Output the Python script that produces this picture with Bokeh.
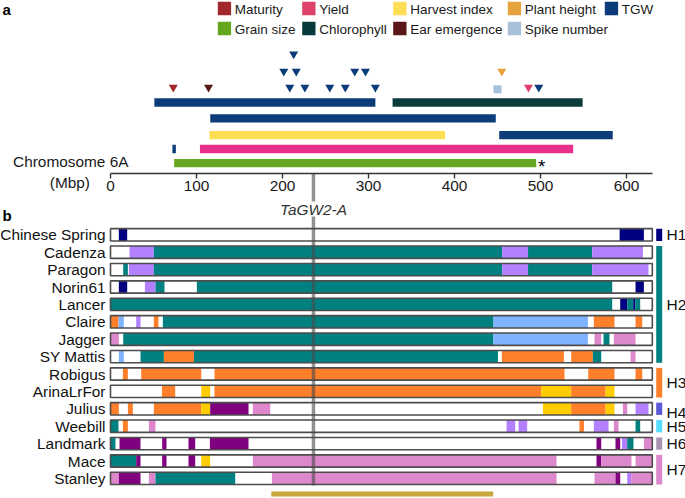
from bokeh.plotting import figure
from bokeh.models import Range1d, LinearAxis, FixedTicker
from bokeh.core.properties import value
from bokeh.embed import file_html
from bokeh.resources import INLINE

# ====================== DATA ======================
# ---- panel a : QTL map of chromosome 6A (positions in Mbp) ----
LEGEND_TRAITS = ["Maturity", "Yield", "Harvest index", "Plant height", "TGW",
                 "Grain size", "Chlorophyll", "Ear emergence", "Spike number"]

QTL_TRAIT = ["TGW", "Chlorophyll", "TGW", "Harvest index", "TGW", "TGW", "Yield", "Grain size"]
QTL_START = [51, 328, 116, 115, 452, 72, 104, 74]
QTL_END = [308, 549, 448, 389, 584, 76, 538, 495]
QTL_TRACK = [0, 0, 1, 2, 2, 3, 3, 4]          # 0 = top track

MARK_TRAIT = ["Maturity", "Ear emergence", "TGW", "TGW", "TGW", "TGW", "TGW",
              "Spike number", "Yield", "TGW",
              "TGW", "TGW", "TGW", "TGW", "Plant height",
              "TGW"]
MARK_POS = [73, 114, 208.5, 226, 255, 273, 308,
            450, 486, 498,
            201.5, 216, 284, 296.5, 455,
            213]
MARK_LEVEL = [0, 0, 0, 0, 0, 0, 0,
              0, 0, 0,
              1, 1, 1, 1, 1,
              2]

SIGNIF_TRAIT = "Grain size"                    # QTL marked with "*"
AXIS_TICKS = [0, 100, 200, 300, 400, 500, 600]
CHROM_END = 630
TAGW2_POS = 236
GENE_NAME = "TaGW2-A"

# ---- panel b : haplotypes of 15 varieties ----
VARIETIES = ["Chinese Spring", "Cadenza", "Paragon", "Norin61", "Lancer", "Claire",
             "Jagger", "SY Mattis", "Robigus", "ArinaLrFor", "Julius", "Weebill",
             "Landmark", "Mace", "Stanley"]
HAPLO_NAMES = ["H1", "H2", "H3", "H4", "H5", "H6", "H7"]
HAPLO_SIZES = [1, 7, 2, 1, 1, 1, 2]

SEG_CHINESE_SPRING = [(9.7, 19.4, "navy"), (592, 620.2, "navy")]
SEG_CADENZA = [(22.1, 50.4, "lavender"), (50.4, 455.5, "teal"), (455.5, 485.5, "lavender"),
               (485.5, 560.1, "teal"), (560.1, 619.1, "lavender")]
SEG_PARAGON = [(14.8, 20.2, "teal"), (21.4, 50.4, "lavender"), (50.4, 455.5, "teal"),
               (455.5, 485.5, "lavender"), (485.5, 560.1, "teal"), (560.1, 625.6, "lavender")]
SEG_NORIN61 = [(9.7, 19.4, "navy"), (40, 52.3, "lavender"), (52.3, 62.8, "teal"),
               (100.4, 583.4, "teal"), (610.5, 620.2, "navy")]
SEG_LANCER = [(0, 583.4, "teal"), (592.7, 600.8, "navy"), (600.8, 607.8, "teal"),
              (607.8, 610.1, "navy"), (610.1, 615.9, "teal")]
SEG_CLAIRE = [(0, 9.3, "orange"), (9.3, 15.5, "lightblue"), (29.9, 34.9, "lavender"),
              (50.4, 55.8, "orange"), (60.9, 445.3, "teal"), (445.3, 555.1, "lightblue"),
              (562, 586, "orange"), (610.5, 618.3, "orange")]
SEG_JAGGER = [(0, 9.7, "pink"), (14.8, 445.3, "teal"), (445.3, 555.1, "lightblue"),
              (562.8, 570.6, "pink"), (573.3, 580.2, "teal"), (585.3, 610.5, "pink")]
SEG_SY_MATTIS = [(9.7, 15.5, "lightblue"), (34.9, 62.1, "teal"), (62.1, 97, "orange"),
                 (97, 450.5, "teal"), (455.1, 527.2, "orange"), (535.7, 560.9, "orange"),
                 (560.9, 570.6, "teal"), (604.7, 610.5, "pink")]
SEG_ROBIGUS = [(14.4, 20.2, "orange"), (35.7, 105.5, "orange"), (120.9, 527.9, "orange"),
               (555.5, 586, "orange"), (610.5, 618.3, "orange")]
SEG_ARINALRFOR = [(59.8, 75.2, "orange"), (105.5, 115.9, "gold"), (120.9, 500.8, "orange"),
                  (500.8, 535.7, "gold"), (535.7, 575.6, "orange"), (575.6, 586, "gold")]
SEG_JULIUS = [(0, 9.7, "orange"), (20.2, 26, "orange"), (50.4, 105.5, "orange"),
              (105.5, 115.9, "gold"), (115.9, 160.5, "purple"), (165.5, 185.7, "pink"),
              (502.8, 535.7, "gold"), (535.7, 575.6, "orange"), (575.6, 586, "gold"),
              (595.8, 600.8, "pink"), (610.5, 625.6, "lavender")]
SEG_WEEBILL = [(0, 9.3, "teal"), (14.4, 20.2, "orange"), (44.6, 52.3, "pink"),
               (460.5, 470.6, "lavender"), (474.5, 484.5, "lavender"), (545.3, 550.5, "orange"),
               (562, 579.1, "lavender"), (585.3, 590.7, "pink"), (610.5, 615.9, "teal")]
SEG_LANDMARK = [(0, 5.8, "teal"), (10.5, 34.9, "purple"), (60.1, 65.1, "purple"),
                (90.7, 98.5, "purple"), (115.6, 160.5, "purple"), (565.1, 570.6, "purple"),
                (587.2, 592.7, "purple"), (594.7, 600.8, "lavender"), (600.8, 608.1, "teal"),
                (620.2, 630, "pink")]
SEG_MACE = [(0, 29.9, "teal"), (29.9, 34.9, "purple"), (60.1, 65.1, "purple"),
            (90.7, 98.5, "purple"), (105.5, 115.9, "gold"), (165.5, 518.6, "pink"),
            (565.1, 570.6, "purple"), (570.6, 605.8, "pink"), (610.5, 630, "pink")]
SEG_STANLEY = [(0, 9.7, "pink"), (9.7, 34.9, "purple"), (44.6, 52.3, "pink"),
               (52.3, 145, "teal"), (187.7, 518.6, "pink"), (562.8, 587.2, "pink"),
               (587.2, 592.7, "purple"), (600.8, 605.4, "lavender"), (605.4, 630, "pink")]
VARIETY_SEGMENTS = [SEG_CHINESE_SPRING, SEG_CADENZA, SEG_PARAGON, SEG_NORIN61, SEG_LANCER,
                    SEG_CLAIRE, SEG_JAGGER, SEG_SY_MATTIS, SEG_ROBIGUS, SEG_ARINALRFOR,
                    SEG_JULIUS, SEG_WEEBILL, SEG_LANDMARK, SEG_MACE, SEG_STANLEY]

REGION_START, REGION_END = 187, 445            # highlighted interval under panel b

# ====================== STYLE ======================
FONT = "Liberation Sans"
TRAIT_COLOR = {"Maturity": "#a0282d", "Yield": "#e0416b", "Harvest index": "#ffdd55",
               "Plant height": "#e6a23c", "TGW": "#0b3b78", "Grain size": "#66a61e",
               "Chlorophyll": "#083a3a", "Ear emergence": "#5b1619", "Spike number": "#a8c0da"}
BAR_COLOR = dict(TRAIT_COLOR, **{"Yield": "#e8308a", "TGW": "#0c3d79",
                                 "Grain size": "#68a820", "Chlorophyll": "#0b3c3c"})
SEG_COLOR = {"teal": "#008080", "lavender": "#b380ff", "navy": "#000080", "orange": "#ff7f2a",
             "lightblue": "#80b3ff", "pink": "#dd88cc", "purple": "#800080", "gold": "#ffcc00"}
HAPLO_COLOR = ["#000080", "#008080", "#ff7f2a", "#5a5ad6", "#55ddff", "#a894b0", "#dd88cc"]
HAPLO_LABEL_DY = [0, 0, 0, 3.5, 0, 0, 0]

# layout (reference-page pixel geometry; the figure is 1:1 with it)
PX0, PX_PER_MBP = 110.0, 0.86
W, H = 685, 498


def mx(px):
    return (px - PX0) / PX_PER_MBP


TRACK_Y = [102, 117.8, 134.7, 148.5, 162.7]
LEVEL_Y = [86.8, 70.8, 53.5]
AXIS_Y = 173
ROW0_Y, ROW_STEP, ROW_H = 234.3, 17.4, 12.3
LEG_COL_PX = [217.3, 301.7, 392.7, 507.3, 604.3]
LEG_ROW_Y = [8.0, 28.0]
BIG = "15.4px"

p = figure(width=W, height=H, x_range=Range1d(mx(0), mx(W)), y_range=Range1d(H, 0),
           toolbar_location=None, output_backend="svg",
           x_axis_location=None, y_axis_location=None, min_border=0,
           outline_line_color=None, background_fill_color="white", border_fill_color="white")
p.grid.visible = False


def txt(x, y, s, size=BIG, align="left", style="normal", color="#1a1a1a"):
    p.text(x=x, y=y, text=s, text_font=value(FONT), text_font_size=size,
           text_align=align, text_baseline="middle", text_font_style=style, text_color=color)


# ---------- panel a ----------
txt([mx(2)], [9], ["a"], size="15px", style="bold", color="black")

leg_x, leg_y, leg_c, leg_tx = [], [], [], []
for i, t in enumerate(LEGEND_TRAITS):
    r, c = divmod(i, 5)
    leg_x.append(mx(LEG_COL_PX[c] + 6.65))
    leg_tx.append(mx(LEG_COL_PX[c] + 17))
    leg_y.append(LEG_ROW_Y[r])
    leg_c.append(TRAIT_COLOR[t])
p.rect(x=leg_x, y=leg_y, width=13.3, height=13.3, width_units="screen", height_units="screen",
       fill_color=leg_c, line_color=None)
txt(leg_tx, [y + 0.5 for y in leg_y], LEGEND_TRAITS, size="13.5px")

p.hbar(y=[TRACK_Y[k] for k in QTL_TRACK], left=QTL_START, right=QTL_END, height=8.3,
       fill_color=[BAR_COLOR[t] for t in QTL_TRAIT], line_color=None)

tri = [i for i, t in enumerate(MARK_TRAIT) if t != "Spike number"]
sq = [i for i, t in enumerate(MARK_TRAIT) if t == "Spike number"]
p.scatter(x=[MARK_POS[i] for i in tri], y=[LEVEL_Y[MARK_LEVEL[i]] for i in tri],
          marker="inverted_triangle", size=9,
          fill_color=[TRAIT_COLOR[MARK_TRAIT[i]] for i in tri], line_color=None)
p.scatter(x=[MARK_POS[i] for i in sq], y=[LEVEL_Y[MARK_LEVEL[i]] + 2 for i in sq],
          marker="square", size=8,
          fill_color=[TRAIT_COLOR[MARK_TRAIT[i]] for i in sq], line_color=None)

k = QTL_TRAIT.index(SIGNIF_TRAIT)
txt([QTL_END[k] + 2], [TRACK_Y[QTL_TRACK[k]] + 3.7], ["*"], size="19px", color="black")
txt([mx(128)], [161.3], ["Chromosome 6A"], align="right")
txt([mx(89.5)], [181.7], ["(Mbp)"], align="right")

ax = LinearAxis(fixed_location=AXIS_Y, ticker=FixedTicker(ticks=AXIS_TICKS), bounds=(0, CHROM_END))
ax.axis_line_color = "#333333"
ax.axis_line_width = 1.6
ax.major_tick_line_color = "#333333"
ax.major_tick_line_width = 1.4
ax.major_tick_out = 5
ax.major_tick_in = 0
ax.minor_tick_line_color = None
ax.major_label_standoff = 2
ax.major_label_text_font = FONT
ax.major_label_text_font_size = BIG
ax.major_label_text_color = "#1a1a1a"
p.add_layout(ax, "below")

# gene position line (split around its label)
last_row_y = ROW0_Y + ROW_STEP * (len(VARIETIES) - 1)
p.segment(x0=[TAGW2_POS], y0=[AXIS_Y], x1=[TAGW2_POS], y1=[201],
          line_width=3.5, line_color="#4a4a4a", line_alpha=0.6)
txt([TAGW2_POS], [208.7], [GENE_NAME], align="center", style="italic", color="#333333")

# ---------- panel b ----------
txt([mx(2)], [215], ["b"], size="15px", style="bold", color="black")
row_y = [ROW0_Y + ROW_STEP * i for i in range(len(VARIETIES))]
p.hbar(y=row_y, left=0, right=CHROM_END, height=ROW_H, fill_color="white", line_color=None)
sy, sl, sr, sc = [], [], [], []
for y, segs in zip(row_y, VARIETY_SEGMENTS):
    for a, b, c in segs:
        sy.append(y); sl.append(a); sr.append(b); sc.append(SEG_COLOR[c])
p.hbar(y=sy, left=sl, right=sr, height=ROW_H, fill_color=sc, line_color=None)
p.hbar(y=row_y, left=0, right=CHROM_END, height=ROW_H, fill_color=None,
       line_color="#4d4d4d", line_width=1.6)
p.segment(x0=[TAGW2_POS], y0=[216], x1=[TAGW2_POS], y1=[last_row_y + ROW_H / 2 + 1],
          line_width=3.5, line_color="#4a4a4a", line_alpha=0.6)
txt([mx(105)] * len(VARIETIES), row_y, VARIETIES, align="right", color="#111111")

# haplotype groups
hx = mx(658.7)
start = 0
hb_top, hb_bot, hl_y = [], [], []
for n in HAPLO_SIZES:
    top = row_y[start] - ROW_H / 2
    bot = row_y[start + n - 1] + ROW_H / 2
    hb_top.append(top); hb_bot.append(bot); hl_y.append((top + bot) / 2)
    start += n
p.vbar(x=[hx] * len(HAPLO_NAMES), top=hb_top, bottom=hb_bot, width=6 / PX_PER_MBP,
       fill_color=HAPLO_COLOR, line_color=None)
txt([mx(666)] * len(HAPLO_NAMES), [y + d for y, d in zip(hl_y, HAPLO_LABEL_DY)],
    HAPLO_NAMES, size="15.5px", color="#111111")

# highlighted region
p.hbar(y=[last_row_y + 15.7], left=[REGION_START], right=[REGION_END], height=5,
       fill_color="#c8a83c", line_color=None)

open("out.html", "w").write(file_html(p, INLINE))
